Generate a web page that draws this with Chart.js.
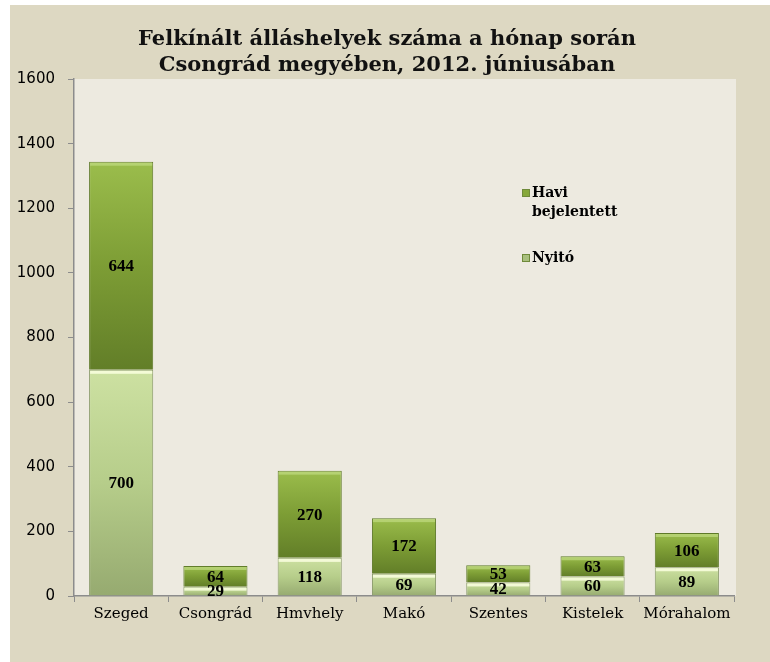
<!DOCTYPE html>
<html>
<head>
<meta charset="utf-8">
<script src="https://cdn.jsdelivr.net/npm/chart.js@4.4.1/dist/chart.umd.min.js"></script>
<style>
  html, body { margin: 0; padding: 0; background: #ffffff; }
  #wrap { width: 770px; height: 662px; position: relative; }
</style>
</head>
<body>
<div id="wrap"><canvas id="grafico" width="770" height="662"></canvas></div>
<script>
// adatok
var telepulesek = ['Szeged', 'Csongrád', 'Hmvhely', 'Makó', 'Szentes', 'Kistelek', 'Mórahalom'];
var nyito = [700, 29, 118, 69, 42, 60, 89];
var havi = [644, 64, 270, 172, 53, 63, 106];
var yTicks = [0, 200, 400, 600, 800, 1000, 1200, 1400, 1600];
var cim = ['Felkínált álláshelyek száma a hónap során', 'Csongrád megyében, 2012. júniusában'];
var sorozatNevek = ['Nyitó', 'Havi bejelentett'];

var serif = '"Liberation Serif", "Times New Roman", serif';
var wideSerif = '"DejaVu Serif", Georgia, serif';

function oszlopSzin(c){
    var ch = c.chart;
    var light = c.datasetIndex === 0;
    if(!ch.chartArea || c.dataIndex === undefined) return light ? '#b7cd8a' : '#7f9f36';
    var y = ch.scales.y;
    var base = light ? 0 : nyito[c.dataIndex];
    var end = base + (light ? nyito : havi)[c.dataIndex];
    var g = ch.ctx.createLinearGradient(0, y.getPixelForValue(end), 0, y.getPixelForValue(base));
    if(light){
        g.addColorStop(0, '#cde1a2');
        g.addColorStop(0.5, '#b6cd8a');
        g.addColorStop(1, '#96aa70');
    }else{
        g.addColorStop(0, '#9bbd4c');
        g.addColorStop(0.5, '#7d9d35');
        g.addColorStop(1, '#627e28');
    }
    return g;
}

var hatter = {
    id: 'hatter',
    beforeDraw: function(chart){
        var ctx = chart.ctx, a = chart.chartArea;
        ctx.save();
        ctx.fillStyle = '#ddd8c2';
        ctx.fillRect(10, 5, chart.width - 10, chart.height - 5);
        ctx.fillStyle = '#edeae0';
        ctx.fillRect(a.left, a.top, a.right - a.left + 2, a.bottom - a.top);
        // cím
        ctx.fillStyle = '#111';
        ctx.font = 'bold 21px ' + wideSerif;
        ctx.textAlign = 'center';
        ctx.textBaseline = 'middle';
        cim.forEach(function(t, k){
            ctx.fillText(t, 387, 40 + k * 26);
        });
        ctx.restore();
    }
};

var cimkek = {
    id: 'cimkek',
    afterDatasetsDraw: function(chart){
        var ctx = chart.ctx;
        ctx.save();
        chart.data.datasets.forEach(function(ds, di){
            var meta = chart.getDatasetMeta(di);
            meta.data.forEach(function(bar, i){
                var w = bar.width;
                // világos perem a szegmens tetején
                ctx.fillStyle = di === 0 ? 'rgba(250,255,225,0.85)' : 'rgba(200,225,140,0.6)';
                ctx.fillRect(bar.x - w / 2 + 1, bar.y + 1, w - 2, 3);
                ctx.fillStyle = '#000';
                ctx.font = 'bold 17px ' + serif;
                ctx.textAlign = 'center';
                ctx.textBaseline = 'middle';
                ctx.fillText(String(ds.data[i]), bar.x, (bar.y + bar.base) / 2 + 1);
            });
        });
        // jelmagyarázat
        var lx = 522;
        var sorok = [
            {y: 193, szoveg: ['Havi', 'bejelentett'], szin: '#86a83a'},
            {y: 258, szoveg: ['Nyitó'], szin: '#a9c07e'}
        ];
        ctx.font = 'bold 14px ' + wideSerif;
        ctx.textAlign = 'left';
        ctx.textBaseline = 'middle';
        sorok.forEach(function(s){
            ctx.fillStyle = s.szin;
            ctx.fillRect(lx, s.y - 4, 8, 8);
            ctx.strokeStyle = '#6f8a3a';
            ctx.lineWidth = 1;
            ctx.strokeRect(lx + 0.5, s.y - 3.5, 7, 7);
            ctx.fillStyle = '#000';
            s.szoveg.forEach(function(t, k){
                ctx.fillText(t, lx + 10, s.y + k * 19);
            });
        });
        ctx.restore();
    }
};

new Chart(document.getElementById('grafico'), {
    type: 'bar',
    data: {
        labels: telepulesek,
        datasets: [{
            label: sorozatNevek[0],
            data: nyito,
            backgroundColor: oszlopSzin,
            borderColor: '#8a9a6a',
            borderWidth: 1,
            barPercentage: 0.68,
            categoryPercentage: 1
        },{
            label: sorozatNevek[1],
            data: havi,
            backgroundColor: oszlopSzin,
            borderColor: '#5f7a2a',
            borderWidth: 1,
            barPercentage: 0.68,
            categoryPercentage: 1
        }]
    },
    options: {
        responsive: false,
        animation: false,
        layout: { padding: { left: 10, right: 36, top: 79, bottom: 6 } },
        plugins: {
            legend: { display: false },
            tooltip: { enabled: false },
            title: { display: false }
        },
        scales: {
            x: {
                stacked: true,
                grid: { display: true, drawOnChartArea: false, offset: true, tickLength: 6, color: '#8c8c8c' },
                border: { color: '#8c8c8c', width: 1.5 },
                ticks: {
                    color: '#000',
                    padding: 3,
                    maxRotation: 0,
                    minRotation: 0,
                    autoSkip: false,
                    font: { family: wideSerif, size: 15 }
                },
                afterFit: function(s){ s.height = 60; }
            },
            y: {
                stacked: true,
                min: 0,
                max: 1600,
                afterBuildTicks: function(s){ s.ticks = yTicks.map(function(v){ return {value: v}; }); },
                grid: { display: true, drawOnChartArea: false, tickLength: 6, color: '#8c8c8c' },
                border: { color: '#8c8c8c', width: 1.5 },
                ticks: {
                    color: '#000',
                    padding: 13,
                    font: { family: '"DejaVu Sans", Verdana, sans-serif', size: 15 },
                    callback: function(v){ return String(v); }
                },
                afterFit: function(s){ s.width = 64; }
            }
        }
    },
    plugins: [hatter, cimkek]
});
</script>
</body>
</html>
